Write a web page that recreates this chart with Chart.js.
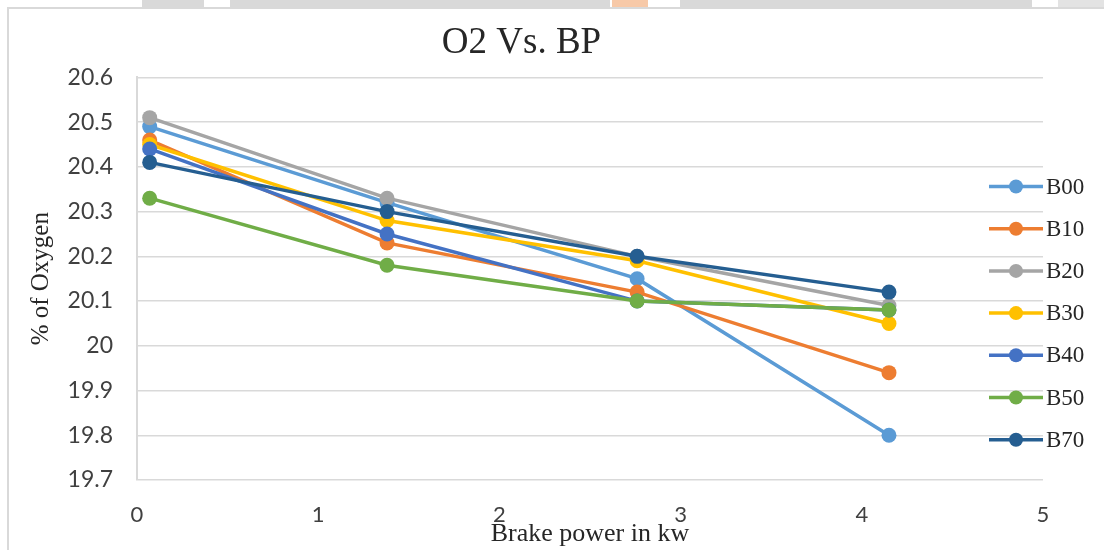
<!DOCTYPE html>
<html>
<head>
<meta charset="utf-8">
<script src="https://cdn.jsdelivr.net/npm/chart.js@4/dist/chart.umd.min.js"></script>
<style>
  body { margin: 0; background: #fff; }
  #wrap { position: relative; width: 1104px; height: 550px; overflow: hidden; }
  .strip { position: absolute; top: 0; height: 7px; background: #d9d9d9; }
  #frame { position: absolute; left: 7px; top: 7px; right: -4px; bottom: -4px; border-left: 2px solid #d9d9d9; border-top: 2px solid #d9d9d9; }
  canvas { position: absolute; left: 0; top: 0; }
</style>
</head>
<body>
<div id="wrap">
  <div class="strip" style="left:142px;width:62px"></div>
  <div class="strip" style="left:230px;width:380px"></div>
  <div class="strip" style="left:612px;width:36px;background:#f7c9a8"></div>
  <div class="strip" style="left:680px;width:352px"></div>
  <div class="strip" style="left:1058px;width:46px;background:#e3e3e3"></div>
  <div id="frame"></div>
  <canvas id="o2Chart" width="1104" height="550"></canvas>
</div>
<script>
const brakePower = [0.07, 1.38, 2.76, 4.15];
const seriesNames = ['B00', 'B10', 'B20', 'B30', 'B40', 'B50', 'B70'];
const b00 = [20.49, 20.32, 20.15, 19.80];
const b10 = [20.46, 20.23, 20.12, 19.94];
const b20 = [20.51, 20.33, 20.20, 20.09];
const b30 = [20.45, 20.28, 20.19, 20.05];
const b40 = [20.44, 20.25, 20.10, 20.08];
const b50 = [20.33, 20.18, 20.10, 20.08];
const b70 = [20.41, 20.30, 20.20, 20.12];
const yTicks = { min: 19.7, max: 20.6, step: 0.1 };
const xTicks = { min: 0, max: 5, step: 1 };

const colors = ['#5B9BD5', '#ED7D31', '#A5A5A5', '#FFC000', '#4472C4', '#70AD47', '#255E91'];
const allSeries = [b00, b10, b20, b30, b40, b50, b70];

const datasets = allSeries.map((vals, i) => ({
    label: seriesNames[i],
    data: vals.map((v, j) => ({ x: brakePower[j], y: v })),
    borderColor: colors[i],
    backgroundColor: colors[i],
    borderWidth: 3.5,
    pointRadius: 7.5,
    pointHoverRadius: 7.5,
    pointBorderWidth: 0,
    order: -i
}));

// excel style legend: short line with a marker, serif label
const lineLegend = {
    id: 'lineLegend',
    afterDraw(chart) {
        const ctx = chart.ctx;
        const top = 186.5, gap = 42.2;
        ctx.save();
        chart.data.datasets.forEach((ds, i) => {
            const y = top + i * gap;
            ctx.strokeStyle = ds.borderColor;
            ctx.lineWidth = 3.5;
            ctx.beginPath();
            ctx.moveTo(989, y);
            ctx.lineTo(1043, y);
            ctx.stroke();
            ctx.fillStyle = ds.borderColor;
            ctx.beginPath();
            ctx.arc(1016, y, 7, 0, Math.PI * 2);
            ctx.fill();
            ctx.fillStyle = '#262626';
            ctx.font = '23px "Liberation Serif"';
            ctx.textBaseline = 'middle';
            ctx.fillText(ds.label, 1046, y + 1);
        });
        ctx.restore();
    }
};

new Chart(document.getElementById('o2Chart'), {
    type: 'line',
    data: { datasets },
    plugins: [lineLegend],
    options: {
        responsive: false,
        animation: false,
        layout: { padding: { left: 0, right: 61, top: 0, bottom: 0 } },
        plugins: {
            legend: { display: false },
            tooltip: { enabled: false },
            title: {
                display: true,
                text: 'O2 Vs. BP',
                color: '#262626',
                font: { family: '"Liberation Serif"', size: 37, weight: 'normal' },
                padding: { top: 21, bottom: 12 }
            }
        },
        scales: {
            x: {
                type: 'linear',
                min: xTicks.min,
                max: xTicks.max,
                grid: { display: false, drawTicks: false },
                border: { display: false },
                ticks: {
                    stepSize: xTicks.step,
                    color: '#404040',
                    padding: 22,
                    font: { family: 'Lato', size: 22 }
                },
                title: {
                    display: true,
                    text: 'Brake power in kw',
                    color: '#262626',
                    font: { family: '"Liberation Serif"', size: 26 },
                    padding: { top: 0, bottom: 0 }
                },
                afterFit: s => { s.height = 70; }
            },
            y: {
                min: yTicks.min,
                max: yTicks.max,
                grid: { color: '#d9d9d9', lineWidth: 1.5, drawTicks: false },
                border: { display: true, color: '#d9d9d9', width: 2 },
                ticks: {
                    stepSize: yTicks.step,
                    color: '#404040',
                    padding: 24,
                    font: { family: 'Lato', size: 23 },
                    callback: v => String(parseFloat(v.toFixed(1)))
                },
                title: {
                    display: true,
                    text: '% of Oxygen',
                    color: '#262626',
                    font: { family: '"Liberation Serif"', size: 25 },
                    padding: { top: 26, bottom: 0 }
                },
                afterFit: s => { s.width = 137; }
            }
        }
    }
});
</script>
</body>
</html>
